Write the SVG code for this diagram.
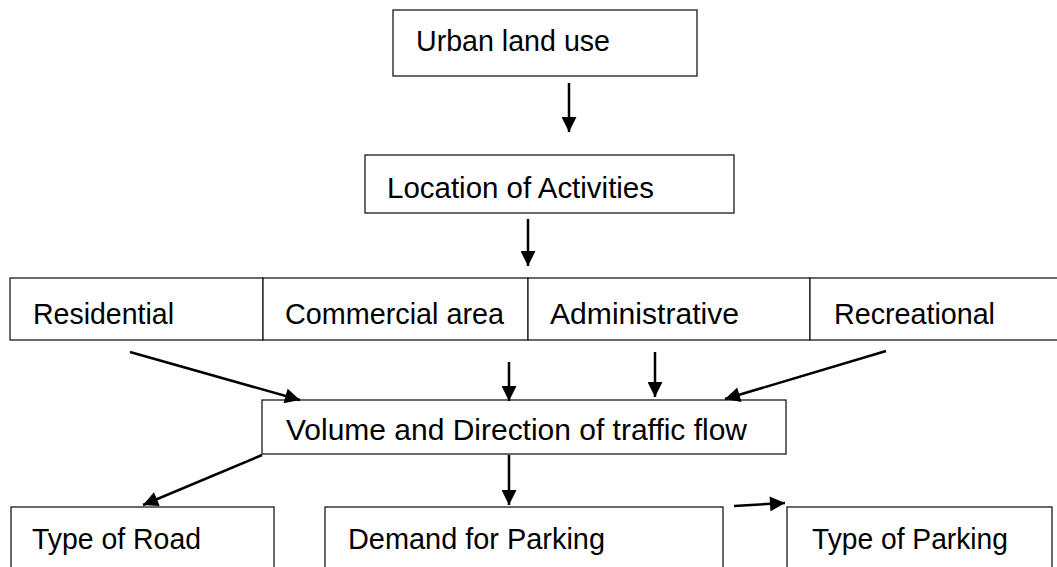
<svg xmlns="http://www.w3.org/2000/svg" width="1057" height="567" viewBox="0 0 1057 567">
  <style>
    .box { fill: #ffffff; stroke: #1a1a1a; stroke-width: 1.3; }
    .lbl { font-family: "Liberation Sans", Arial, sans-serif; font-size: 29px; fill: #000000; }
    .arr { stroke: #000000; stroke-width: 2.5; fill: none; marker-end: url(#head); }
  </style>
  <defs>
    <marker id="head" viewBox="0 0 10 10" refX="10" refY="5" markerWidth="16" markerHeight="15" markerUnits="userSpaceOnUse" orient="auto">
      <path d="M0,0 L10,5 L0,10 Z" fill="#000000"/>
    </marker>
  </defs>
  <rect x="0" y="0" width="1057" height="567" fill="#ffffff"/>

  <g id="urban">
    <rect class="box" x="393" y="10" width="304" height="66"/>
    <text class="lbl" x="416" y="51" textLength="194" lengthAdjust="spacingAndGlyphs">Urban land use</text>
  </g>
  <g id="location">
    <rect class="box" x="365" y="155" width="369" height="58"/>
    <text class="lbl" x="387" y="198" textLength="267" lengthAdjust="spacingAndGlyphs">Location of Activities</text>
  </g>
  <g id="residential">
    <rect class="box" x="10" y="278" width="253" height="62"/>
    <text class="lbl" x="33" y="324" textLength="141" lengthAdjust="spacingAndGlyphs">Residential</text>
  </g>
  <g id="commercial">
    <rect class="box" x="263" y="278" width="265" height="62"/>
    <text class="lbl" x="285" y="324" textLength="219" lengthAdjust="spacingAndGlyphs">Commercial area</text>
  </g>
  <g id="administrative">
    <rect class="box" x="528" y="278" width="282" height="62"/>
    <text class="lbl" x="550" y="324" textLength="189" lengthAdjust="spacingAndGlyphs">Administrative</text>
  </g>
  <g id="recreational">
    <rect class="box" x="810" y="278" width="260" height="62"/>
    <text class="lbl" x="834" y="324" textLength="161" lengthAdjust="spacingAndGlyphs">Recreational</text>
  </g>
  <g id="volume">
    <rect class="box" x="262" y="400" width="524" height="54"/>
    <text class="lbl" x="286" y="440" textLength="461" lengthAdjust="spacingAndGlyphs">Volume and Direction of traffic flow</text>
  </g>
  <g id="type-of-road">
    <rect class="box" x="11" y="507" width="263" height="80"/>
    <text class="lbl" x="32" y="549" textLength="169" lengthAdjust="spacingAndGlyphs">Type of Road</text>
  </g>
  <g id="demand-for-parking">
    <rect class="box" x="325" y="507" width="398" height="80"/>
    <text class="lbl" x="348" y="549" textLength="257" lengthAdjust="spacingAndGlyphs">Demand for Parking</text>
  </g>
  <g id="type-of-parking">
    <rect class="box" x="787" y="507" width="265" height="80"/>
    <text class="lbl" x="812" y="549" textLength="196" lengthAdjust="spacingAndGlyphs">Type of Parking</text>
  </g>

  <g id="connectors">
    <line class="arr" x1="569" y1="83" x2="569" y2="132"/>
    <line class="arr" x1="528" y1="219" x2="528" y2="266"/>
    <line class="arr" x1="130" y1="352" x2="300" y2="400"/>
    <line class="arr" x1="509" y1="362" x2="509" y2="401"/>
    <line class="arr" x1="655" y1="352" x2="655" y2="397"/>
    <line class="arr" x1="886" y1="351" x2="725" y2="399"/>
    <line class="arr" x1="262" y1="455" x2="143" y2="505"/>
    <line class="arr" x1="509" y1="455" x2="509" y2="505"/>
    <line class="arr" x1="734" y1="506" x2="785" y2="503"/>
  </g>
</svg>
